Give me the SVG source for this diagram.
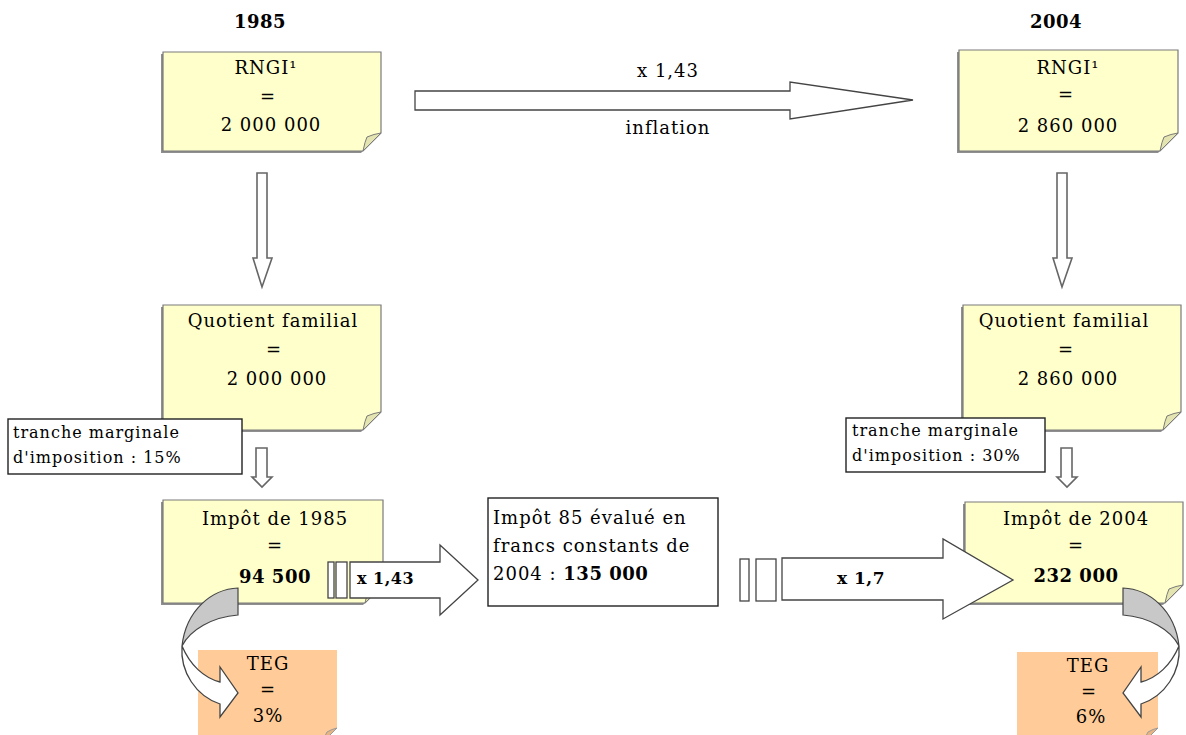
<svg xmlns="http://www.w3.org/2000/svg" width="1186" height="735" viewBox="0 0 1186 735">
<style>
.shadow{fill:#8f8f8f}
.note{fill:#FFFFCC;stroke:#7a7a7a;stroke-width:1.2}
.fold{fill:#E4E4B0;stroke:#7a7a7a;stroke-width:1}
.teg{fill:#FFCC99}
.tfold{fill:#E8B482;stroke:#9a9a9a;stroke-width:1}
.box{fill:#fff;stroke:#222;stroke-width:1.4}
.arr{fill:#fff;stroke:#444;stroke-width:1.3;stroke-linejoin:miter}
.darr{fill:#fff;stroke:#666;stroke-width:1.6}
.gray{fill:#C8C8C8;stroke:#444;stroke-width:1.2}
.t{font-family:"DejaVu Serif",serif;font-size:18px;letter-spacing:1px;fill:#000}
.s{font-size:16px}
.b{font-weight:bold;letter-spacing:0.5px}
.m{text-anchor:middle}
</style>

<g id="year1985"><text class="t b m" x="260" y="28">1985</text></g>
<g id="year2004"><text class="t b m" x="1056" y="28">2004</text></g>

<g id="rngi1985">
<path class="shadow" d="M161,54 H379 V135 L361,153 H161 Z"/>
<path class="note" d="M163,52 H381 V133 L363,151 H163 Z"/>
<path class="fold" d="M381,133 L363,151 Q365,141 367,137 Q374,134 381,133 Z"/>
<text class="t m" x="266" y="74">RNGI¹</text>
<text class="t m" x="268" y="103">=</text>
<text class="t m" x="271" y="131">2 000 000</text>
</g>

<g id="quotient1985">
<path class="shadow" d="M161,307 H379 V414 L361,432 H161 Z"/>
<path class="note" d="M163,305 H381 V412 L363,430 H163 Z"/>
<path class="fold" d="M381,412 L363,430 Q365,420 367,416 Q374,413 381,412 Z"/>
<text class="t m" x="273" y="327">Quotient familial</text>
<text class="t m" x="274" y="356">=</text>
<text class="t m" x="277" y="385">2 000 000</text>
</g>

<g id="impot1985">
<path class="shadow" d="M161,502 H381 V587 L363,605 H161 Z"/>
<path class="note" d="M163,500 H383 V585 L365,603 H163 Z"/>
<path class="fold" d="M383,585 L365,603 Q367,593 369,589 Q376,586 383,585 Z"/>
<text class="t m" x="275" y="525">Impôt de 1985</text>
<text class="t m" x="275" y="552">=</text>
<text class="t b m" x="275" y="583">94 500</text>
</g>

<g id="rngi2004">
<path class="shadow" d="M957,52 H1176 V135 L1158,153 H957 Z"/>
<path class="note" d="M959,50 H1178 V133 L1160,151 H959 Z"/>
<path class="fold" d="M1178,133 L1160,151 Q1162,141 1164,137 Q1171,134 1178,133 Z"/>
<text class="t m" x="1068" y="74">RNGI¹</text>
<text class="t m" x="1066" y="101">=</text>
<text class="t m" x="1068" y="132">2 860 000</text>
</g>

<g id="quotient2004">
<path class="shadow" d="M961,307 H1179 V414 L1161,432 H961 Z"/>
<path class="note" d="M963,305 H1181 V412 L1163,430 H963 Z"/>
<path class="fold" d="M1181,412 L1163,430 Q1165,420 1167,416 Q1174,413 1181,412 Z"/>
<text class="t m" x="1064" y="327">Quotient familial</text>
<text class="t m" x="1066" y="356">=</text>
<text class="t m" x="1068" y="385">2 860 000</text>
</g>

<g id="impot2004">
<path class="shadow" d="M963,504 H1181 V587 L1163,605 H963 Z"/>
<path class="note" d="M965,502 H1183 V585 L1165,603 H965 Z"/>
<path class="fold" d="M1183,585 L1165,603 Q1167,593 1169,589 Q1176,586 1183,585 Z"/>
<text class="t m" x="1076" y="525">Impôt de 2004</text>
<text class="t m" x="1076" y="552">=</text>
<text class="t b m" x="1076" y="582">232 000</text>
</g>

<g id="teg1985">
<path class="teg" d="M198,650 H337 V728 L323,742 H198 Z"/>
<path class="tfold" d="M337,728 L323,742 Q325,735 327,732 Q332,729 337,728 Z"/>
<text class="t m" x="268" y="670">TEG</text>
<text class="t m" x="268" y="696">=</text>
<text class="t m" x="268" y="722">3%</text>
</g>

<g id="teg2004">
<path class="teg" d="M1017,652 H1158 V728 L1144,742 H1017 Z"/>
<path class="tfold" d="M1158,728 L1144,742 Q1146,735 1148,732 Q1153,729 1158,728 Z"/>
<text class="t m" x="1088" y="672">TEG</text>
<text class="t m" x="1089" y="698">=</text>
<text class="t m" x="1091" y="723">6%</text>
</g>

<g id="tranche1985">
<rect class="box" x="8" y="419" width="234" height="55"/>
<text class="t s" x="13" y="438">tranche marginale</text>
<text class="t s" x="13" y="463">d'imposition : 15%</text>
</g>

<g id="tranche2004">
<rect class="box" x="846" y="418" width="199" height="54"/>
<text class="t s" x="852" y="436">tranche marginale</text>
<text class="t s" x="852" y="461">d'imposition : 30%</text>
</g>

<g id="impot85constant">
<rect class="box" x="488" y="498" width="230" height="108"/>
<text class="t" x="493" y="524">Impôt 85 évalué en</text>
<text class="t" x="493" y="552">francs constants de</text>
<text class="t" x="493" y="580">2004 : <tspan class="b">135 000</tspan></text>
</g>

<g id="connectors">
<path class="arr" d="M415,91 H790 V82 L913,100 L790,119 V110 H415 Z"/>
<text class="t m" x="668" y="77">x 1,43</text>
<text class="t m" x="668" y="134">inflation</text>

<path class="darr" d="M257,173 H267 V258 H272 L262,287 L253,258 H257 Z"/>
<path class="darr" d="M1057,173 H1067 V258 H1072 L1062,287 L1053,258 H1057 Z"/>
<path class="darr" d="M256,448 H267 V477 H272 L262,487 L252,477 H256 Z"/>
<path class="darr" d="M1061,448 H1072 V477 H1077 L1067,487 L1057,477 H1061 Z"/>

<rect class="arr" x="328" y="562" width="6" height="36"/>
<rect class="arr" x="336" y="562" width="11" height="36"/>
<path class="arr" d="M350,562 H440 V545 L478,580 L440,615 V598 H350 Z"/>
<text class="t b" x="357" y="584" style="font-size:16px">x 1,43</text>

<rect class="arr" x="740" y="559" width="9" height="42"/>
<rect class="arr" x="756" y="559" width="20" height="42"/>
<path class="arr" d="M782,558 H943 V539 L1013,580 L943,619 V600 H782 Z"/>
<text class="t b m" x="861" y="584" style="font-size:17px">x 1,7</text>

<g id="curve1985">
<path class="gray" d="M238,588 C212,589 186,610 182,646 C190,630 212,617 238,615 Z"/>
<path class="arr" d="M182,646 C180,672 196,696 220,704 L220,717 L238,693 L220,667 L220,682 C204,678 190,665 182,646 Z"/>
</g>
<g id="curve2004" transform="translate(1361,0) scale(-1,1)">
<path class="gray" d="M238,588 C212,589 186,610 182,646 C190,630 212,617 238,615 Z"/>
<path class="arr" d="M182,646 C180,672 196,696 220,704 L220,717 L238,693 L220,667 L220,682 C204,678 190,665 182,646 Z"/>
</g>
</g>
</svg>
